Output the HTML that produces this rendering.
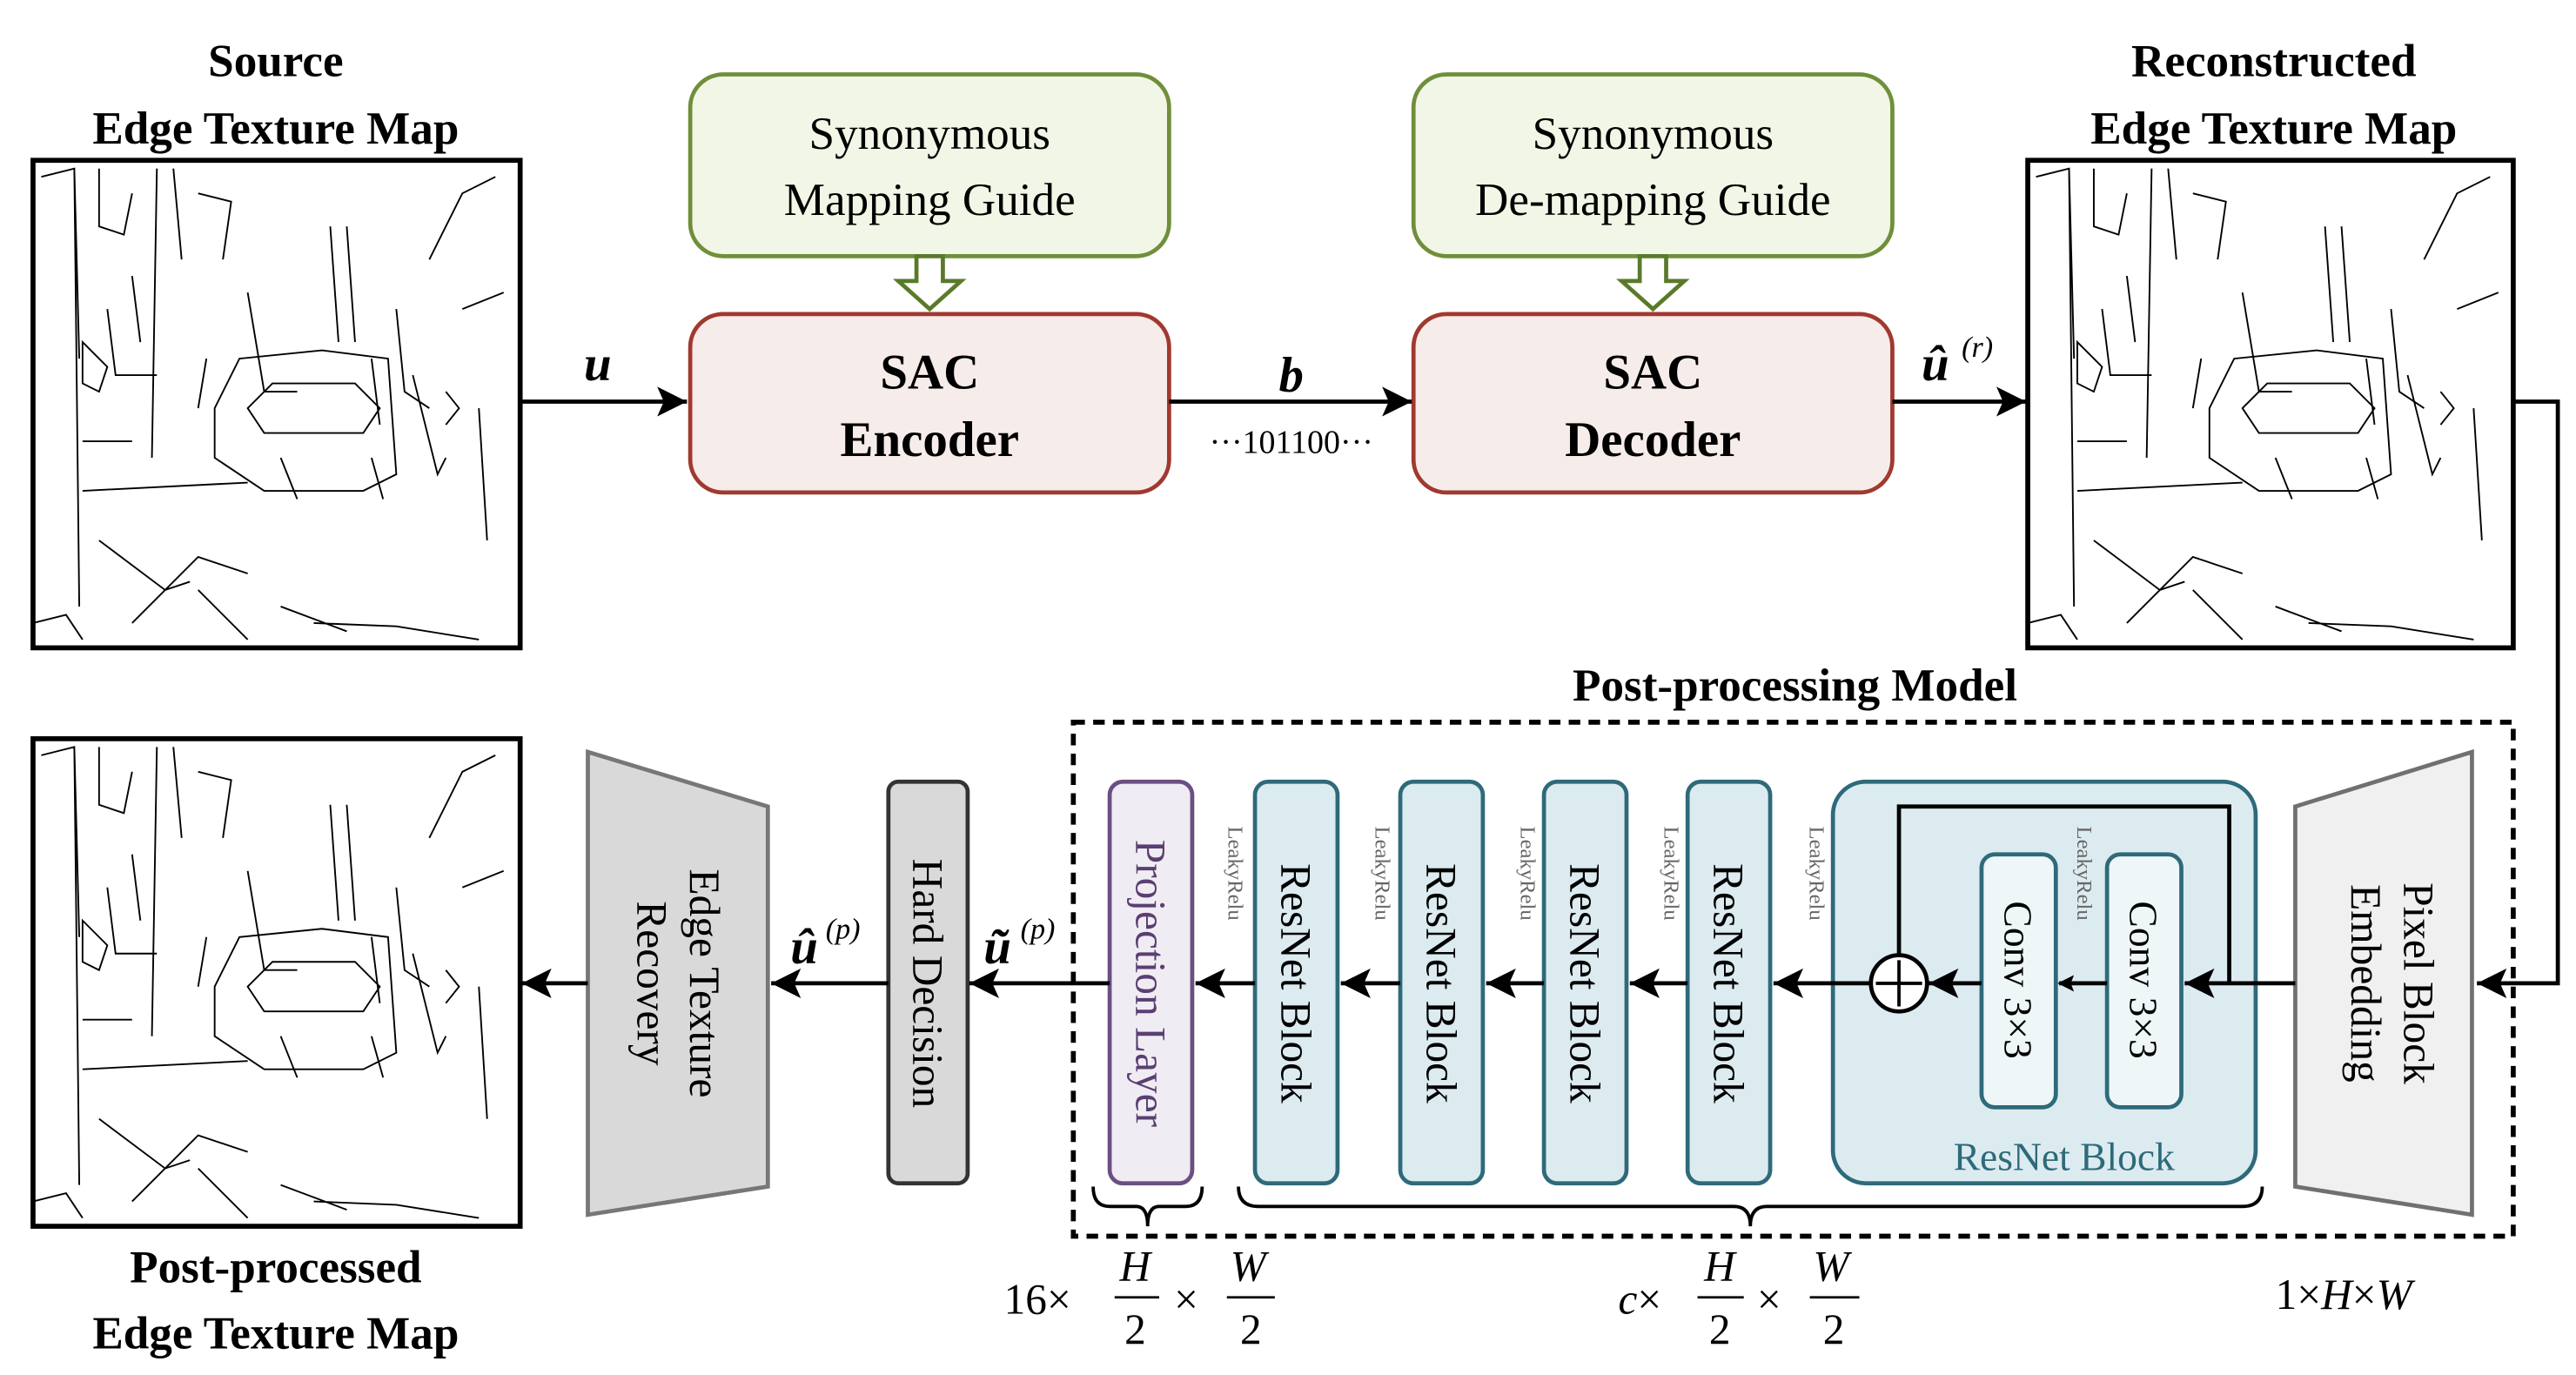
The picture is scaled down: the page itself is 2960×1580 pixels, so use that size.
<!DOCTYPE html>
<html><head><meta charset="utf-8"><style>
html,body{margin:0;padding:0;background:#fff}
svg{display:block}
svg text{font-family:"Liberation Serif","DejaVu Serif",serif}
</style></head><body>
<svg width="2960" height="1580" viewBox="0 0 1560 832" preserveAspectRatio="none" xmlns="http://www.w3.org/2000/svg" font-family="Liberation Serif, serif">
<defs>
<marker id="ah" markerWidth="10" markerHeight="10" refX="9" refY="5" orient="auto" markerUnits="userSpaceOnUse">
<path d="M0,0 L10,5 L0,10 L2,5 Z" fill="#000"/></marker>
<marker id="ah2" markerWidth="20" markerHeight="20" refX="18" refY="10" orient="auto" markerUnits="userSpaceOnUse">
<path d="M0,1 L18,10 L0,19 L4,10 Z" fill="#000"/></marker>
<g id="edge" fill="none" stroke="#000" stroke-width="1">
<path d="M5,10 L25,5 L28,270 M25,5 L28,120 M40,5 L40,40 L55,45 L60,20 M75,5 L72,180 M85,5 L90,60 M100,20 L120,25 L115,60 M60,70 L65,110 M45,90 L50,130 L75,130 M105,120 L100,150 M130,80 L140,140 L160,140 M180,40 L185,110 M190,40 L195,110 M205,120 L210,160 M220,90 L225,140 L240,150 M240,60 L260,20 L280,10 M260,90 L285,80 M30,110 L45,125 L40,140 L30,135 Z M110,150 L125,120 L175,115 L215,120 L220,190 L200,200 L140,200 L110,180 Z M130,150 L145,135 L195,135 L210,150 L200,165 L140,165 Z M150,180 L160,205 M205,180 L212,205 M230,130 L245,190 L250,180 M250,140 L258,150 L250,160 M270,150 L275,230 M30,170 L60,170 M30,200 L130,195 M40,230 L80,260 L95,255 M60,280 L100,240 L130,250 M100,260 L130,290 M150,270 L190,285 M170,280 L220,282 L270,290 M0,280 L20,275 L30,290"/>
</g>
</defs>

<g font-weight="bold" font-size="28" text-anchor="middle">
<text x="167" y="46">Source</text>
<text x="167" y="87">Edge Texture Map</text>
<text x="1377" y="46">Reconstructed</text>
<text x="1377" y="87">Edge Texture Map</text>
<text x="167" y="776">Post-processed</text>
<text x="167" y="816">Edge Texture Map</text>
<text x="1087" y="424">Post-processing Model</text>
</g>

<rect x="20" y="97" width="295" height="295" fill="#fff" stroke="#000" stroke-width="3"/>
<use href="#edge" x="20" y="97"/>
<rect x="1228" y="97" width="294" height="295" fill="#fff" stroke="#000" stroke-width="3"/>
<use href="#edge" x="1228" y="97"/>
<rect x="20" y="447" width="295" height="295" fill="#fff" stroke="#000" stroke-width="3"/>
<use href="#edge" x="20" y="447"/>

<rect x="418" y="45" width="290" height="110" rx="20" fill="#f1f6e6" stroke="#6f8f3a" stroke-width="2.5"/>
<rect x="856" y="45" width="290" height="110" rx="20" fill="#f1f6e6" stroke="#6f8f3a" stroke-width="2.5"/>
<g font-size="28" text-anchor="middle">
<text x="563" y="90">Synonymous</text>
<text x="563" y="130">Mapping Guide</text>
<text x="1001" y="90">Synonymous</text>
<text x="1001" y="130">De-mapping Guide</text>
</g>
<path d="M555,155 L571,155 L571,170 L582,170 L563,187 L544,170 L555,170 Z" fill="#fff" stroke="#5a7a2a" stroke-width="2.5"/>
<path d="M993,155 L1009,155 L1009,170 L1020,170 L1001,187 L982,170 L993,170 Z" fill="#fff" stroke="#5a7a2a" stroke-width="2.5"/>

<rect x="418" y="190" width="290" height="108" rx="20" fill="#f6ecea" stroke="#a0392f" stroke-width="2.5"/>
<rect x="856" y="190" width="290" height="108" rx="20" fill="#f6ecea" stroke="#a0392f" stroke-width="2.5"/>
<g font-size="30" font-weight="bold" text-anchor="middle">
<text x="563" y="235">SAC</text>
<text x="563" y="276">Encoder</text>
<text x="1001" y="235">SAC</text>
<text x="1001" y="276">Decoder</text>
</g>

<g stroke="#000" stroke-width="2.5" fill="none">
<line x1="315" y1="243" x2="416" y2="243" marker-end="url(#ah2)"/>
<line x1="708" y1="243" x2="855" y2="243" marker-end="url(#ah2)"/>
<line x1="1146" y1="243" x2="1227" y2="243" marker-end="url(#ah2)"/>
<polyline points="1522,243 1549,243 1549,595 1500,595" marker-end="url(#ah2)"/>
</g>
<g font-weight="bold" font-style="italic" font-size="30" text-anchor="middle">
<text x="362" y="230">u</text>
<text x="782" y="237">b</text>
<text x="1172" y="230">û</text>
</g>
<text x="1188" y="216" font-size="18" font-style="italic">(r)</text>
<text x="782" y="274" font-size="20" text-anchor="middle">···101100···</text>

<rect x="650" y="437" width="872" height="311" fill="none" stroke="#000" stroke-width="3" stroke-dasharray="7,5"/>

<path d="M1390,488 L1497,455 L1497,735 L1390,718 Z" fill="#f0f0f0" stroke="#707070" stroke-width="2.5"/>
<g font-size="26" text-anchor="middle">
<text transform="translate(1456,595) rotate(90)">Pixel Block</text>
<text transform="translate(1424,595) rotate(90)">Embedding</text>
</g>

<rect x="1110" y="473" width="256" height="243" rx="20" fill="#dcebf0" stroke="#2e6a7a" stroke-width="2.5"/>
<text x="1250" y="708" font-size="24" text-anchor="middle" fill="#2e6a7a">ResNet Block</text>
<rect x="1200" y="517" width="45" height="153" rx="8" fill="#eef6f8" stroke="#2e6a7a" stroke-width="2.5"/>
<rect x="1276" y="517" width="45" height="153" rx="8" fill="#eef6f8" stroke="#2e6a7a" stroke-width="2.5"/>
<g font-size="24" text-anchor="middle">
<text transform="translate(1214,593) rotate(90)">Conv 3×3</text>
<text transform="translate(1290,593) rotate(90)">Conv 3×3</text>
</g>
<circle cx="1150" cy="595" r="17" fill="#fff" stroke="#000" stroke-width="2.5"/>
<path d="M1136,595 L1164,595 M1150,581 L1150,609" stroke="#000" stroke-width="2"/>

<g fill="#dcebf0" stroke="#2e6a7a" stroke-width="2.5">
<rect x="1022" y="473" width="50" height="243" rx="8"/>
<rect x="935" y="473" width="50" height="243" rx="8"/>
<rect x="848" y="473" width="50" height="243" rx="8"/>
<rect x="760" y="473" width="50" height="243" rx="8"/>
</g>
<g font-size="26" text-anchor="middle">
<text transform="translate(1038,595) rotate(90)">ResNet Block</text>
<text transform="translate(951,595) rotate(90)">ResNet Block</text>
<text transform="translate(864,595) rotate(90)">ResNet Block</text>
<text transform="translate(776,595) rotate(90)">ResNet Block</text>
</g>
<rect x="672" y="473" width="50" height="243" rx="8" fill="#f0ecf3" stroke="#6b4f82" stroke-width="2.5"/>
<text transform="translate(688,595) rotate(90)" font-size="26" text-anchor="middle" fill="#5a3f72">Projection Layer</text>
<rect x="538" y="473" width="48" height="243" rx="6" fill="#d9d9d9" stroke="#333" stroke-width="2.5"/>
<text transform="translate(553,595) rotate(90)" font-size="26" text-anchor="middle">Hard Decision</text>
<path d="M356,455 L465,488 L465,718 L356,735 Z" fill="#d9d9d9" stroke="#777" stroke-width="2.5"/>
<g font-size="26" text-anchor="middle">
<text transform="translate(418,595) rotate(90)">Edge Texture</text>
<text transform="translate(386,595) rotate(90)">Recovery</text>
</g>

<g font-size="13" fill="#666">
<text transform="translate(1096,500) rotate(90)">LeakyRelu</text>
<text transform="translate(1008,500) rotate(90)">LeakyRelu</text>
<text transform="translate(921,500) rotate(90)">LeakyRelu</text>
<text transform="translate(833,500) rotate(90)">LeakyRelu</text>
<text transform="translate(744,500) rotate(90)">LeakyRelu</text>
<text transform="translate(1258,500) rotate(90)">LeakyRelu</text>
</g>

<g stroke="#000" stroke-width="2.5" fill="none">
<line x1="1390" y1="595" x2="1323" y2="595" marker-end="url(#ah2)"/>
<line x1="1276" y1="595" x2="1247" y2="595" marker-end="url(#ah)"/>
<line x1="1200" y1="595" x2="1168" y2="595" marker-end="url(#ah2)"/>
<polyline points="1350,595 1350,488 1150,488 1150,578"/>
<line x1="1133" y1="595" x2="1074" y2="595" marker-end="url(#ah2)"/>
<line x1="1022" y1="595" x2="987" y2="595" marker-end="url(#ah2)"/>
<line x1="935" y1="595" x2="900" y2="595" marker-end="url(#ah2)"/>
<line x1="848" y1="595" x2="812" y2="595" marker-end="url(#ah2)"/>
<line x1="760" y1="595" x2="724" y2="595" marker-end="url(#ah2)"/>
<line x1="672" y1="595" x2="587" y2="595" marker-end="url(#ah2)"/>
<line x1="538" y1="595" x2="467" y2="595" marker-end="url(#ah2)"/>
<line x1="356" y1="595" x2="316" y2="595" marker-end="url(#ah2)"/>
</g>
<g font-weight="bold" font-style="italic" font-size="30" text-anchor="middle">
<text x="487" y="583">û</text>
<text x="604" y="583">ũ</text>
</g>
<text x="500" y="568" font-size="18" font-style="italic">(p)</text>
<text x="618" y="568" font-size="18" font-style="italic">(p)</text>

<g fill="none" stroke="#000" stroke-width="2">
<path d="M662,718 Q662,730 672,730 L688,730 Q695,730 695,742 Q695,730 702,730 L718,730 Q728,730 728,718"/>
<path d="M750,718 Q750,730 762,730 L1050,730 Q1060,730 1060,742 Q1060,730 1070,730 L1358,730 Q1370,730 1370,718"/>
</g>

<g font-size="26">
<text x="608" y="795">16×</text>
<text x="678" y="775" font-style="italic">H</text>
<line x1="675" y1="785" x2="702" y2="785" stroke="#000" stroke-width="1.5"/>
<text x="681" y="813">2</text>
<text x="711" y="795">×</text>
<text x="745" y="775" font-style="italic">W</text>
<line x1="743" y1="785" x2="772" y2="785" stroke="#000" stroke-width="1.5"/>
<text x="751" y="813">2</text>
<text x="980" y="795"><tspan font-style="italic">c</tspan>×</text>
<text x="1032" y="775" font-style="italic">H</text>
<line x1="1028" y1="785" x2="1056" y2="785" stroke="#000" stroke-width="1.5"/>
<text x="1035" y="813">2</text>
<text x="1064" y="795">×</text>
<text x="1098" y="775" font-style="italic">W</text>
<line x1="1096" y1="785" x2="1126" y2="785" stroke="#000" stroke-width="1.5"/>
<text x="1104" y="813">2</text>
<text x="1378" y="792">1×<tspan font-style="italic">H</tspan>×<tspan font-style="italic">W</tspan></text>
</g>
</svg>
</body></html>
